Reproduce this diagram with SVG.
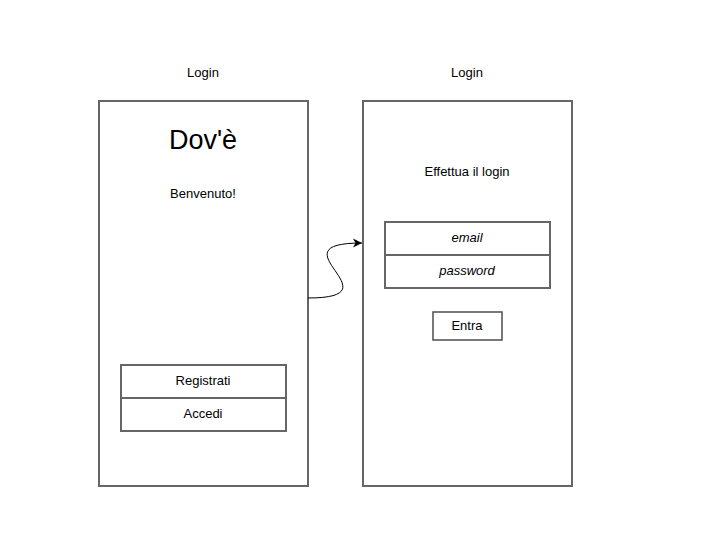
<svg xmlns="http://www.w3.org/2000/svg" width="711" height="547" viewBox="0 0 711 547">
<style>
.frame{fill:#fff;stroke:#666;stroke-width:2}
.box{fill:#fff;stroke:#666;stroke-width:2}
.btn{fill:#fff;stroke:#4d4d4d;stroke-width:1.5}
text{font-family:"Liberation Sans",Arial,sans-serif;font-size:13px;fill:#000;text-anchor:middle}
.it{font-style:italic}
.edge{fill:none;stroke:#000;stroke-width:1}
</style>
<defs>
<marker id="arr" markerWidth="12" markerHeight="12" refX="10" refY="6" orient="auto" markerUnits="userSpaceOnUse">
<path d="M1,1.5 L10,6 L1,10.5 L3.5,6 Z" fill="#000"/>
</marker>
</defs>
<rect width="711" height="547" fill="#fff"/>
<g id="screen1">
<text x="203" y="77">Login</text>
<rect class="frame" x="99" y="101" width="209" height="385"/>
<text x="203" y="149" style="font-size:27px">Dov'è</text>
<text x="203" y="198">Benvenuto!</text>
</g>
<g id="registrati">
<rect class="box" x="121" y="365" width="165" height="33"/>
<text x="203" y="385">Registrati</text>
</g>
<g id="accedi">
<rect class="box" x="121" y="398" width="165" height="33"/>
<text x="203" y="418">Accedi</text>
</g>
<g id="screen2">
<text x="467" y="77">Login</text>
<rect class="frame" x="363" y="101" width="209" height="385"/>
<text x="467" y="176">Effettua il login</text>
</g>
<g id="email">
<rect class="box" x="385" y="222" width="165" height="33"/>
<text class="it" x="467" y="242">email</text>
</g>
<g id="password">
<rect class="box" x="385" y="255" width="165" height="33"/>
<text class="it" x="467" y="275">password</text>
</g>
<g id="entra">
<rect class="btn" x="433" y="312" width="69" height="28"/>
<text x="467" y="330">Entra</text>
</g>
<g id="connectors">
<path class="edge" d="M308,298 C400,298 270,243 362,243" marker-end="url(#arr)"/>
</g>
</svg>
